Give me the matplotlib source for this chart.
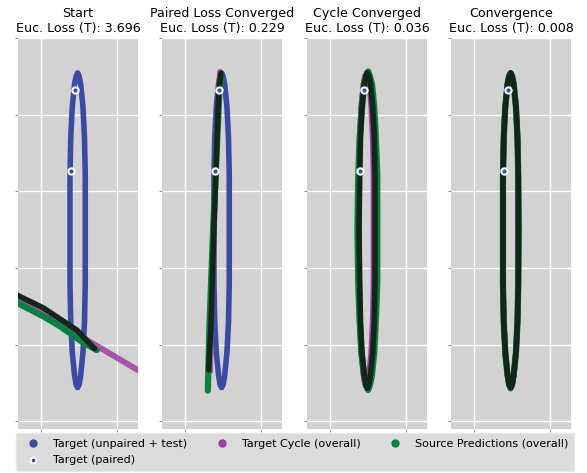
import matplotlib
matplotlib.use("Agg")
import matplotlib.pyplot as plt
from matplotlib.lines import Line2D

titles = ["Start", "Paired Loss Converged", "Cycle Converged", "Convergence"]
losses = [3.696, 0.229, 0.036, 0.008]

# target ellipse (same in every panel)
target_x = [0.48, 0.50, 0.52, 0.55, 0.57, 0.58, 0.58, 0.58, 0.57, 0.55, 0.52, 0.50, 0.48,
            0.46, 0.44, 0.41, 0.39, 0.38, 0.38, 0.38, 0.39, 0.41, 0.44, 0.46, 0.48]
target_y = [2.54, 2.50, 2.40, 2.10, 1.70, 1.20, 0.50, -0.20, -0.70, -1.10, -1.40, -1.52, -1.56,
            -1.52, -1.40, -1.10, -0.70, -0.20, 0.50, 1.20, 1.70, 2.10, 2.40, 2.50, 2.54]

paired_x = [0.44, 0.39]
paired_y = [2.32, 1.26]

# panel 1 - start
cycle1_x = [-0.40, 0.40, 1.35]
cycle1_y = [-0.32, -0.82, -1.38]
source1_x = [-0.40, -0.30, 0.03, 0.25, 0.55, 0.73]
source1_y = [-0.40, -0.46, -0.63, -0.76, -0.97, -1.07]
black1_x = [-0.40, -0.30, 0.03, 0.47, 0.70]
black1_y = [-0.30, -0.36, -0.52, -0.81, -1.05]

# panel 2 - paired loss converged
cycle2_x = [0.46, 0.44, 0.38, 0.34, 0.33]
cycle2_y = [2.56, 2.28, 0.53, -0.77, -1.35]
source2_x = [0.48, 0.45, 0.37, 0.32, 0.30]
source2_y = [2.50, 2.28, 0.53, -0.77, -1.60]
black2_x = [0.47, 0.44, 0.38, 0.34, 0.31]
black2_y = [2.54, 2.28, 0.53, -0.77, -1.33]

# panel 3 - cycle converged
cycle3_x = [0.48, 0.50, 0.52, 0.54, 0.56, 0.57, 0.57, 0.57, 0.56, 0.54, 0.51, 0.49, 0.48,
            0.46, 0.44, 0.41, 0.39, 0.38, 0.38, 0.38, 0.39, 0.41, 0.44, 0.46, 0.48]
cycle3_y = [2.52, 2.48, 2.38, 2.10, 1.70, 1.20, 0.50, -0.20, -0.70, -1.10, -1.40, -1.50, -1.54,
            -1.50, -1.40, -1.10, -0.70, -0.20, 0.50, 1.20, 1.70, 2.10, 2.40, 2.50, 2.52]
source3_x = [0.50, 0.52, 0.55, 0.58, 0.60, 0.62, 0.62, 0.62, 0.60, 0.58, 0.55, 0.52, 0.50,
             0.48, 0.45, 0.41, 0.39, 0.37, 0.36, 0.37, 0.39, 0.42, 0.45, 0.48, 0.50]
source3_y = [2.56, 2.51, 2.40, 2.10, 1.70, 1.20, 0.50, -0.20, -0.70, -1.10, -1.40, -1.54, -1.59,
             -1.54, -1.40, -1.10, -0.70, -0.20, 0.50, 1.20, 1.70, 2.10, 2.40, 2.51, 2.56]
black3_x = [0.49, 0.51, 0.53, 0.56, 0.58, 0.59, 0.59, 0.59, 0.58, 0.56, 0.53, 0.51, 0.49,
            0.47, 0.45, 0.42, 0.40, 0.39, 0.38, 0.39, 0.40, 0.42, 0.45, 0.47, 0.49]
black3_y = [2.54, 2.50, 2.40, 2.10, 1.70, 1.20, 0.50, -0.20, -0.70, -1.10, -1.40, -1.52, -1.57,
            -1.52, -1.40, -1.10, -0.70, -0.20, 0.50, 1.20, 1.70, 2.10, 2.40, 2.50, 2.54]

# panel 4 - convergence
cycle4_x = [0.48, 0.50, 0.52, 0.55, 0.57, 0.58, 0.58, 0.58, 0.57, 0.55, 0.52, 0.50, 0.48,
            0.46, 0.44, 0.41, 0.39, 0.38, 0.38, 0.38, 0.39, 0.41, 0.44, 0.46, 0.48]
cycle4_y = [2.54, 2.50, 2.40, 2.10, 1.70, 1.20, 0.50, -0.20, -0.70, -1.10, -1.40, -1.52, -1.56,
            -1.52, -1.40, -1.10, -0.70, -0.20, 0.50, 1.20, 1.70, 2.10, 2.40, 2.50, 2.54]
source4_x = [0.48, 0.50, 0.52, 0.55, 0.57, 0.58, 0.59, 0.58, 0.57, 0.55, 0.52, 0.50, 0.48,
             0.46, 0.44, 0.41, 0.39, 0.38, 0.38, 0.38, 0.39, 0.41, 0.44, 0.46, 0.48]
source4_y = [2.54, 2.50, 2.40, 2.10, 1.70, 1.20, 0.50, -0.20, -0.70, -1.10, -1.40, -1.52, -1.57,
             -1.52, -1.40, -1.10, -0.70, -0.20, 0.50, 1.20, 1.70, 2.10, 2.40, 2.50, 2.54]
black4_x = [0.48, 0.50, 0.52, 0.55, 0.57, 0.58, 0.58, 0.58, 0.57, 0.55, 0.52, 0.50, 0.48,
            0.46, 0.44, 0.41, 0.39, 0.38, 0.38, 0.38, 0.39, 0.41, 0.44, 0.46, 0.48]
black4_y = [2.54, 2.50, 2.40, 2.10, 1.70, 1.20, 0.50, -0.20, -0.70, -1.10, -1.40, -1.52, -1.56,
            -1.52, -1.40, -1.10, -0.70, -0.20, 0.50, 1.20, 1.70, 2.10, 2.40, 2.50, 2.54]

cycles = [(cycle1_x, cycle1_y), (cycle2_x, cycle2_y), (cycle3_x, cycle3_y), (cycle4_x, cycle4_y)]
sources = [(source1_x, source1_y), (source2_x, source2_y), (source3_x, source3_y), (source4_x, source4_y)]
blacks = [(black1_x, black1_y), (black2_x, black2_y), (black3_x, black3_y), (black4_x, black4_y)]

xticks = [0, 1]
yticks = [-2, -1, 0, 1, 2, 3]

blue = "#3a4ca2"
magenta = "#a13ea1"
green = "#0b8141"
dark = "#13261a"

fig = plt.figure(figsize=(5.87, 4.73), dpi=100)
lefts = [18, 162, 307, 451]
for i in range(4):
    ax = fig.add_axes([lefts[i] / 587, 44 / 473, 120 / 587, 391 / 473])
    ax.set_facecolor("#d2d2d2")
    for s in ax.spines.values():
        s.set_visible(False)
    ax.grid(True, color="white", linewidth=1.0)
    ax.set_axisbelow(True)
    ax.set_xticks(xticks)
    ax.set_yticks(yticks)
    ax.set_xticklabels([])
    ax.set_yticklabels([])
    ax.tick_params(length=2.5, width=0.6, color="#777777")
    ax.set_xlim(-0.3, 1.27)
    ax.set_ylim(-2.1, 3.0)

    ax.plot(target_x, target_y, color=blue, lw=4, solid_capstyle="round", solid_joinstyle="round")
    cx, cy = cycles[i]
    ax.plot(cx, cy, color=magenta, lw=4.2, alpha=0.85, solid_capstyle="round", solid_joinstyle="round")
    sx, sy = sources[i]
    ax.plot(sx, sy, color=green, lw=4.5, solid_capstyle="round", solid_joinstyle="round")
    bx, by = blacks[i]
    ax.plot(bx, by, color=dark, lw=4, solid_capstyle="round", solid_joinstyle="round")
    ax.plot(paired_x, paired_y, "o", color=blue, markersize=4.5,
            markeredgecolor="white", markeredgewidth=1.5, zorder=5)

    ax.set_title(f"{titles[i]}\nEuc. Loss (T): {losses[i]:.3f}", fontsize=9.1, pad=4, linespacing=1.25)

handles = [
    Line2D([], [], marker="o", ls="", color=blue, markersize=5),
    Line2D([], [], marker="o", ls="", color=blue, markersize=4, markeredgecolor="white", markeredgewidth=1.3),
    Line2D([], [], marker="o", ls="", color=magenta, markersize=5),
    Line2D([], [], marker="o", ls="", color=green, markersize=5),
]
labels = ["Target (unpaired + test)", "Target (paired)",
          "Target Cycle (overall)", "Source Predictions (overall)"]
leg = fig.legend(handles, labels, ncol=3, fontsize=8, mode="expand",
                 bbox_to_anchor=(16 / 587, 2 / 473, 558 / 587, 38 / 473), loc="lower left",
                 facecolor="#dbdbdb", edgecolor="#e6e6e6", framealpha=1, fancybox=True,
                 borderaxespad=0, labelspacing=0.6, borderpad=0.5)

fig.savefig("out.png", dpi=100)
